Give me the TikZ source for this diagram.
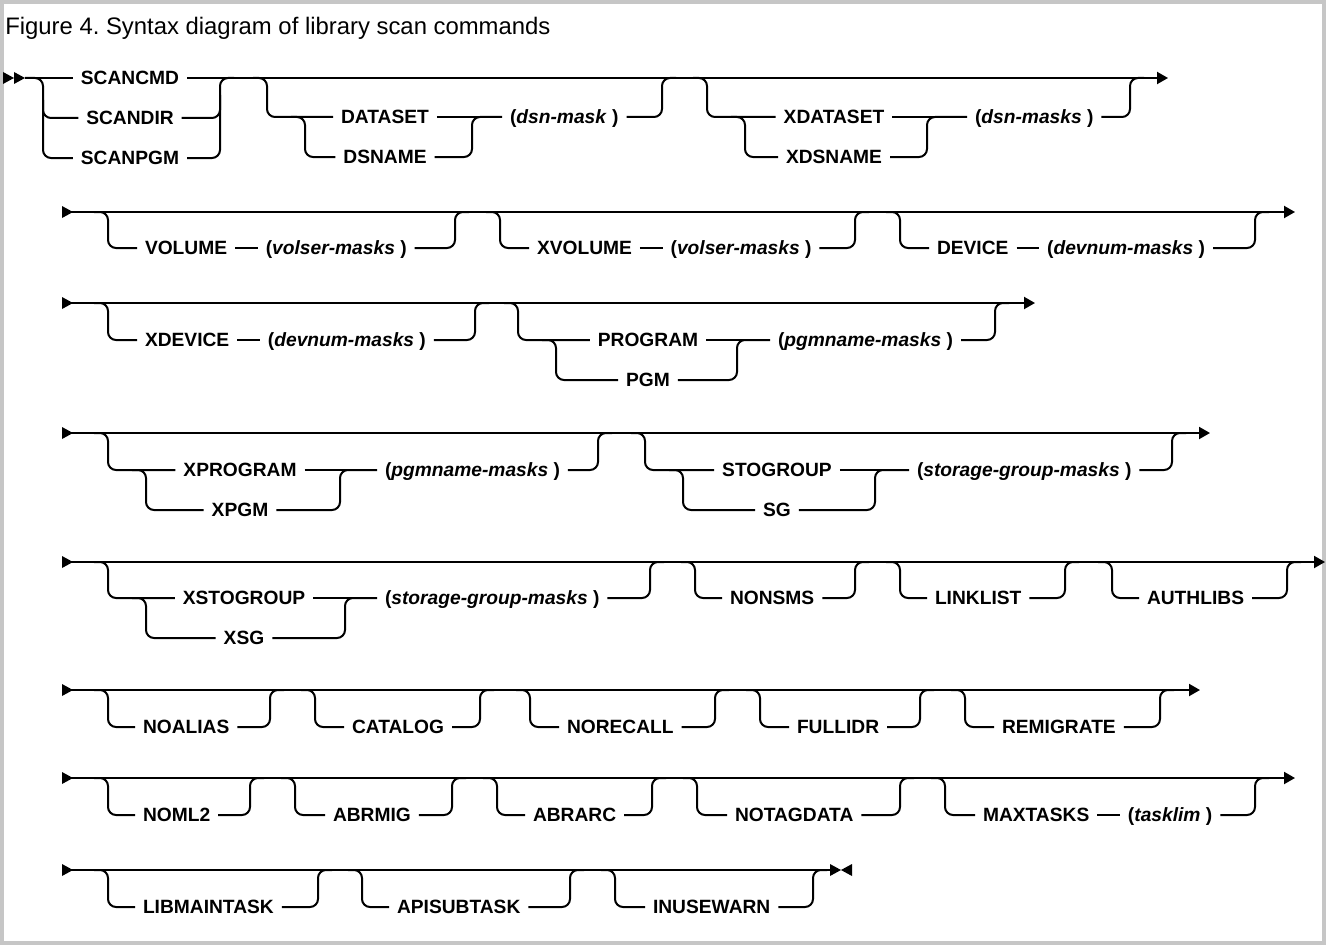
\documentclass[tikz,border=0pt]{standalone}
\usepackage{fontspec}
\setmainfont{Liberation Sans}
\usetikzlibrary{arrows.meta,positioning}
\definecolor{framegray}{HTML}{C6C6C6}
\tikzset{rail/.style={line width=1.5pt,rounded corners=6pt},
	kw/.style={font=\fontsize{14.4}{17}\selectfont\bfseries,inner sep=0pt,outer xsep=6pt,text height=10.3pt,text depth=0pt},
	kwl/.style={kw,anchor=west,xshift=-6pt},
	rowstart/.pic={\fill (0,-6) -- (11,0) -- (0,6) -- cycle;},
	rowstop/.pic={\fill (0,-6) -- (11,0) -- (0,6) -- cycle; \fill (22,-6) -- (11,0) -- (22,6) -- cycle;}}

% one keyword on a branch under the main line
\newcommand\optkw[5]{%
	\node[kwl] (#1) at (#4,\yl) {#5};
	\draw[rail] (#2-14,\ym) -| (#2,\yl) -- (#1.west);
	\draw[rail] (#1.east) -| (#3,\ym) -- (#3+14,\ym);
}
% keyword and value on a branch
\newcommand\optparm[6]{%
	\node[kwl] (#1) at (#4,\yl) {#5};
	\node[kw,right=17pt of #1] (#1v) {#6};
	\draw[rail] (#2-14,\ym) -| (#2,\yl) -- (#1.west);
	\draw[rail] (#1) -- (#1v);
	\draw[rail] (#1v.east) -| (#3,\ym) -- (#3+14,\ym);
}
% two keywords to choose from, then a value
\newcommand\twochoice[9]{%
	\node[kw] (#1a) at (#3,\yl) {#7};
	\node[kw] (#1b) at (#3,\yll) {#8};
	\node[kwl] (#1v) at (#5,\yl) {#9};
	\draw[rail] (#2-14,\ym) -| (#2,\yl) -- (#1a.west);
	\draw[rail] (#2+24,\yl) -| (#2+38,\yll) -- (#1b.west);
	\draw[rail] (#1a) -- (#1v);
	\draw[rail] (#1b.east) -| (#4,\yl) -- (#1v.west);
	\draw[rail] (#1v.east) -| (#6,\ym) -- (#6+14,\ym);
}

\begin{document}
\begin{tikzpicture}[x=0.75pt,y=-0.75pt,>={Triangle[length=8.25pt,width=9pt]}]
\useasboundingbox (0,0) rectangle (1326,945);
\draw[framegray,line width=3pt] (2,2) rectangle (1324,943);
\node[anchor=base west,inner sep=0pt,font=\fontsize{17.9}{21}\selectfont] (title) at (5,35) {Figure 4.\ Syntax diagram of library scan commands};

% row 1
\def\ym{78}\def\yl{117}\def\yll{157}
\pic at (3,78) {rowstart}; \pic at (14,78) {rowstart};
\coordinate (r1s) at (25,78);
\coordinate (r1e) at (1168,78);
\node[kw] (scancmd) at (130,78) {SCANCMD};
\node[kw] (scandir) at (130,118) {SCANDIR};
\node[kw] (scanpgm) at (130,158) {SCANPGM};
\draw[rail] (r1s) -- (scancmd);
\draw[rail] (r1s) -| (43,118) -- (scandir.west);
\draw[rail] (43,100) |- (scanpgm.west);
\draw[rail] (scandir.east) -| (220,95);
\draw[rail] (scanpgm.east) -| (220,78) -- (234,78);
\draw[rail,->] (scancmd) -- (r1e);
\twochoice{ds}{267}{385}{472}{510}{662}{DATASET}{DSNAME}{(\textit{dsn-mask} )}
\twochoice{xds}{707}{834}{927}{975}{1130}{XDATASET}{XDSNAME}{(\textit{dsn-masks} )}

% row 2
\def\ym{212}\def\yl{248}
\coordinate (r2s) at (62,212);
\coordinate (r2e) at (1295,212);
\draw[rail,->] (r2s) -- (r2e);
\pic at (r2s) {rowstart};
\optparm{vol}{108}{455}{145}{VOLUME}{(\textit{volser-masks} )}
\optparm{xvol}{500}{855}{537}{XVOLUME}{(\textit{volser-masks} )}
\optparm{dev}{900}{1255}{937}{DEVICE}{(\textit{devnum-masks} )}

% row 3
\def\ym{303}\def\yl{340}\def\yll{380}
\coordinate (r3s) at (62,303);
\coordinate (r3e) at (1035,303);
\draw[rail,->] (r3s) -- (r3e);
\pic at (r3s) {rowstart};
\optparm{xdev}{108}{475}{145}{XDEVICE}{(\textit{devnum-masks} )}
\twochoice{pgm}{518}{648}{737}{778}{995}{PROGRAM}{PGM}{(\textit{pgmname-masks} )}

% row 4
\def\ym{433}\def\yl{470}\def\yll{510}
\coordinate (r4s) at (62,433);
\coordinate (r4e) at (1210,433);
\draw[rail,->] (r4s) -- (r4e);
\pic at (r4s) {rowstart};
\twochoice{xpgm}{108}{240}{340}{385}{598}{XPROGRAM}{XPGM}{(\textit{pgmname-masks} )}
\twochoice{sg}{645}{777}{875}{917}{1172}{STOGROUP}{SG}{(\textit{storage-group-masks} )}

% row 5
\def\ym{562}\def\yl{598}\def\yll{638}
\coordinate (r5s) at (62,562);
\coordinate (r5e) at (1325,562);
\draw[rail,->] (r5s) -- (r5e);
\pic at (r5s) {rowstart};
\twochoice{xsg}{108}{244}{345}{385}{650}{XSTOGROUP}{XSG}{(\textit{storage-group-masks} )}
\foreach \n/\b/\j/\t/\l in {nonsms/695/855/730/NONSMS,linklist/900/1065/935/LINKLIST,authlibs/1112/1287/1147/AUTHLIBS} {
	\optkw{\n}{\b}{\j}{\t}{\l}
};

% row 6
\def\ym{690}\def\yl{727}
\coordinate (r6s) at (62,690);
\coordinate (r6e) at (1200,690);
\draw[rail,->] (r6s) -- (r6e);
\pic at (r6s) {rowstart};
\foreach \n/\b/\j/\t/\l in {noalias/108/270/143/NOALIAS,catalog/315/480/352/CATALOG,norecall/530/715/567/NORECALL,fullidr/760/920/797/FULLIDR,remigrate/965/1160/1002/REMIGRATE} {
	\optkw{\n}{\b}{\j}{\t}{\l}
};

% row 7
\def\ym{778}\def\yl{815}
\coordinate (r7s) at (62,778);
\coordinate (r7e) at (1295,778);
\draw[rail,->] (r7s) -- (r7e);
\pic at (r7s) {rowstart};
\foreach \n/\b/\j/\t/\l in {noml2/108/250/143/NOML2,abrmig/295/452/333/ABRMIG,abrarc/497/652/533/ABRARC,notagdata/697/900/735/NOTAGDATA} {
	\optkw{\n}{\b}{\j}{\t}{\l}
};
\optparm{maxt}{945}{1255}{983}{MAXTASKS}{(\textit{tasklim} )}

% row 8
\def\ym{870}\def\yl{907}
\coordinate (r8s) at (62,870);
\coordinate (r8e) at (830,870);
\draw[rail] (r8s) -- (r8e);
\pic at (r8s) {rowstart};
\pic at (r8e) {rowstop};
\foreach \n/\b/\j/\t/\l in {libmaintask/108/318/143/LIBMAINTASK,apisubtask/362/570/397/APISUBTASK,inusewarn/615/813/653/INUSEWARN} {
	\optkw{\n}{\b}{\j}{\t}{\l}
};

\end{tikzpicture}
\end{document}
